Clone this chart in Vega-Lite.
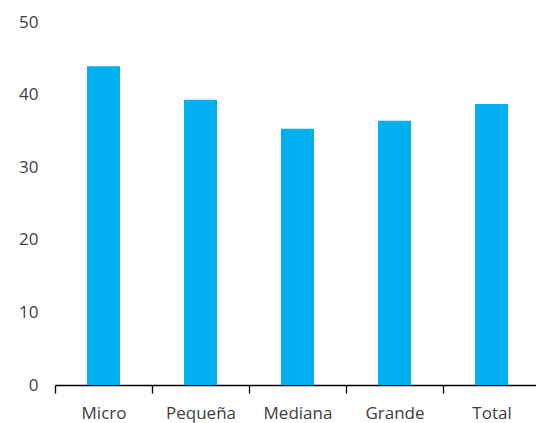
{
  "$schema": "https://vega.github.io/schema/vega-lite/v6.json",
  "autosize": {"type": "none"},
  "width": 485,
  "height": 363,
  "padding": {"left": 55, "top": 22, "right": 0, "bottom": 38},
  "background": "white",
  "data": {"values": [
    {"cat": "Micro", "v": 43.9},
    {"cat": "Pequeña", "v": 39.3},
    {"cat": "Mediana", "v": 35.3},
    {"cat": "Grande", "v": 36.4},
    {"cat": "Total", "v": 38.7}
  ]},
  "mark": {"type": "bar", "color": "#00B0F0", "width": {"band": 0.34}},
  "encoding": {
    "x": {"field": "cat", "type": "nominal", "sort": null,
      "scale": {"paddingInner": 0, "paddingOuter": 0},
      "axis": {"title": null, "labelAngle": 0, "labelFont": "Open Sans", "labelFontSize": 17, "labelColor": "#404040",
        "labelPadding": 12, "domainColor": "#000000", "domainWidth": 1.3, "ticks": true, "tickColor": "#000000", "tickWidth": 1.3, "tickBand": "extent", "tickSize": 8, "grid": false}},
    "y": {"field": "v", "type": "quantitative",
      "scale": {"domain": [0, 50]},
      "axis": {"title": null, "values": [0, 10, 20, 30, 40, 50], "domain": false, "ticks": false, "grid": false,
        "labelFont": "Open Sans", "labelFontSize": 17, "labelColor": "#404040", "labelPadding": 17}}
  },
  "config": {"view": {"stroke": null}}
}
